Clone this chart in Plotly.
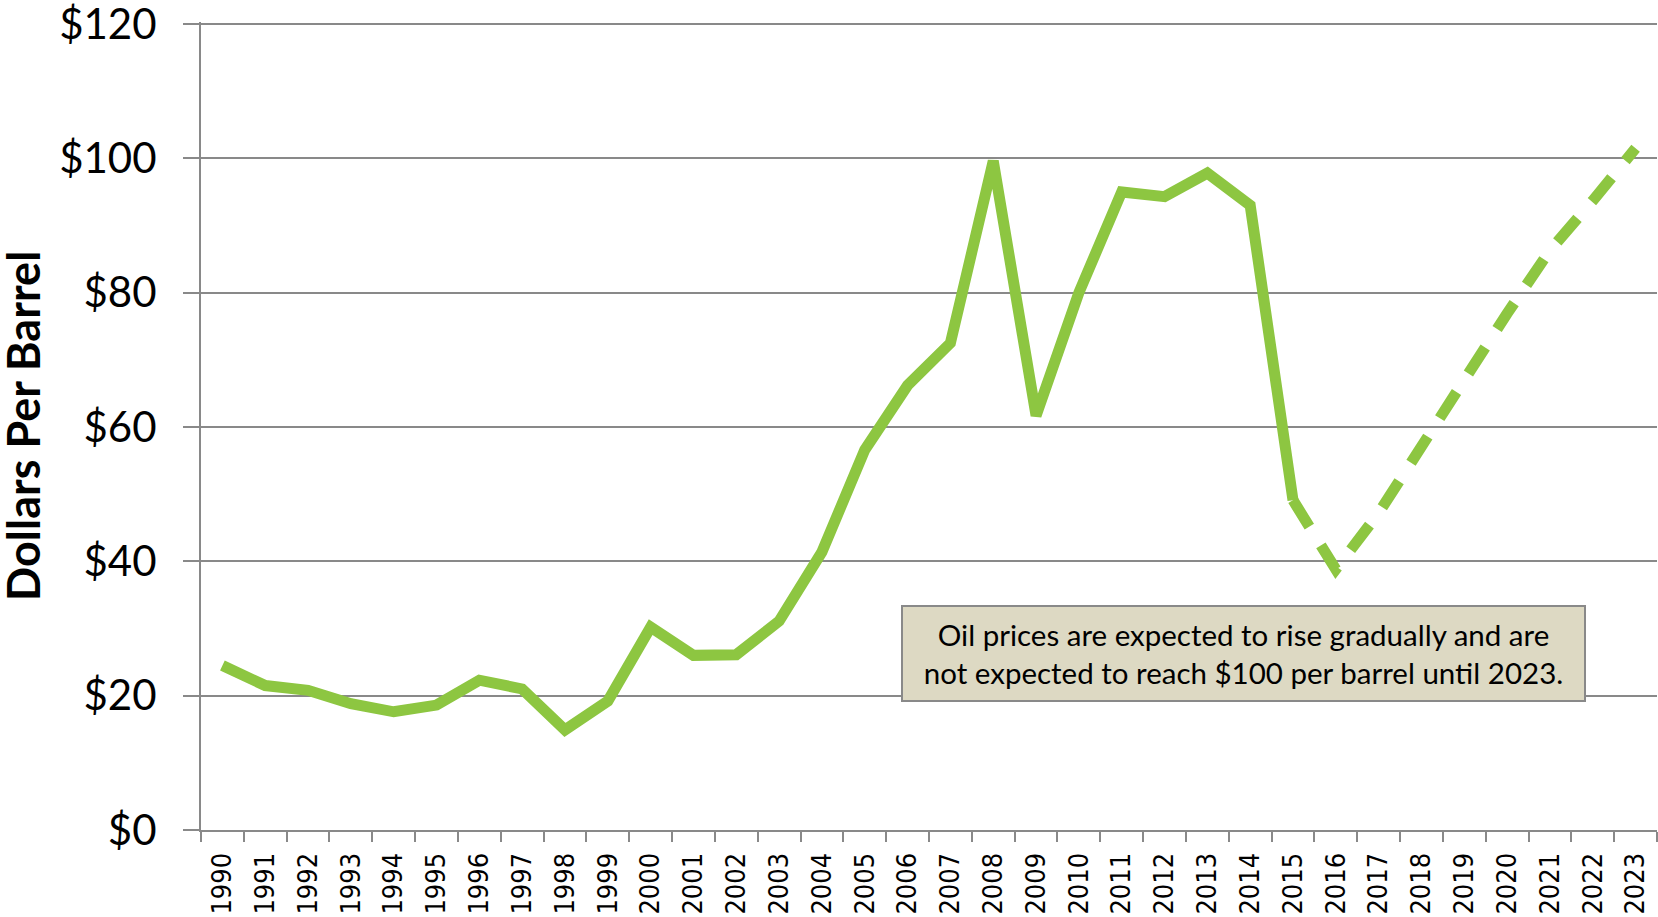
import plotly.graph_objects as go

years = [str(y) for y in range(1990, 2024)]

# actual prices 1990-2015, forecast 2015-2023
actual_years = years[:26]
actual_price = [24.5, 21.5, 20.8, 18.8, 17.6, 18.6, 22.3, 21.0, 14.9, 19.2,
                30.2, 26.0, 26.1, 31.1, 41.4, 56.6, 66.2, 72.5, 99.6, 61.7,
                80.0, 95.0, 94.3, 97.8, 93.0, 49.1]
forecast_years = years[25:]
forecast_price = [49.1, 38.8, 47.2, 56.8, 67.0, 76.9, 86.3, 93.7, 101.5]

y_ticks = [0, 20, 40, 60, 80, 100, 120]
y_labels = ['$0', '$20', '$40', '$60', '$80', '$100', '$120']

note = ('Oil prices are expected to rise gradually and are<br>'
        'not expected to reach $100 per barrel until 2023.')

green = '#8DC641'
grey = '#898989'

fig = go.Figure()

fig.add_trace(go.Scatter(
    x=actual_years,
    y=actual_price,
    mode='lines',
    name='Actual',
    line=dict(width=11, color=green)
))

fig.add_trace(go.Scatter(
    x=forecast_years,
    y=forecast_price,
    mode='lines',
    name='Forecast',
    line=dict(width=11, color=green, dash='31px,22px')
))

fig.update_xaxes(
    type='category',
    categoryorder='array',
    categoryarray=years,
    range=[-0.5, len(years) - 0.5],
    tickson='boundaries',
    ticks='outside',
    ticklen=10,
    tickcolor=grey,
    tickwidth=2,
    tickangle=-90,
    tickfont=dict(family='DejaVu Sans Condensed, DejaVu Sans', size=27, color='black'),
    ticklabelstandoff=10,
    ticklabeloverflow='allow',
    showgrid=False,
    showline=True,
    linecolor=grey,
    linewidth=2,
    zeroline=False,
    automargin=False
)

# a little headroom so the $120 gridline is not clipped
fig.update_yaxes(
    range=[0, 120.3],
    tickvals=y_ticks,
    ticktext=y_labels,
    ticks='outside',
    ticklen=16,
    tickcolor=grey,
    tickwidth=2,
    tickfont=dict(family='Lato', size=42, color='black'),
    ticklabelstandoff=18,
    ticklabeloverflow='allow',
    showgrid=True,
    gridcolor=grey,
    gridwidth=2,
    showline=True,
    linecolor=grey,
    linewidth=2,
    zeroline=False,
    automargin=False
)

fig.add_annotation(
    text='<b>Dollars Per Barrel</b>',
    xref='paper', yref='paper',
    x=-0.1223, y=0.5,
    xanchor='center', yanchor='middle',
    textangle=-90,
    showarrow=False,
    font=dict(family='Lato', size=45, color='black')
)

fig.add_annotation(
    text=note,
    xref='paper', yref='y',
    x=0.716, y=26.3,
    xanchor='center', yanchor='middle',
    showarrow=False,
    align='center',
    width=681,
    height=93,
    bgcolor='#DDD9C3',
    bordercolor=grey,
    borderwidth=2,
    borderpad=0,
    font=dict(family='Lato', size=29.5, color='black')
)

fig.update_layout(
    width=1658,
    height=917,
    showlegend=False,
    plot_bgcolor='white',
    paper_bgcolor='white',
    margin=dict(l=201, r=1, t=22, b=87, autoexpand=False)
)

# drop the page's default body margin so the figure fills the window
fig.write_html('out.html', config={'displayModeBar': False},
               post_script="document.body.style.margin='0';")
